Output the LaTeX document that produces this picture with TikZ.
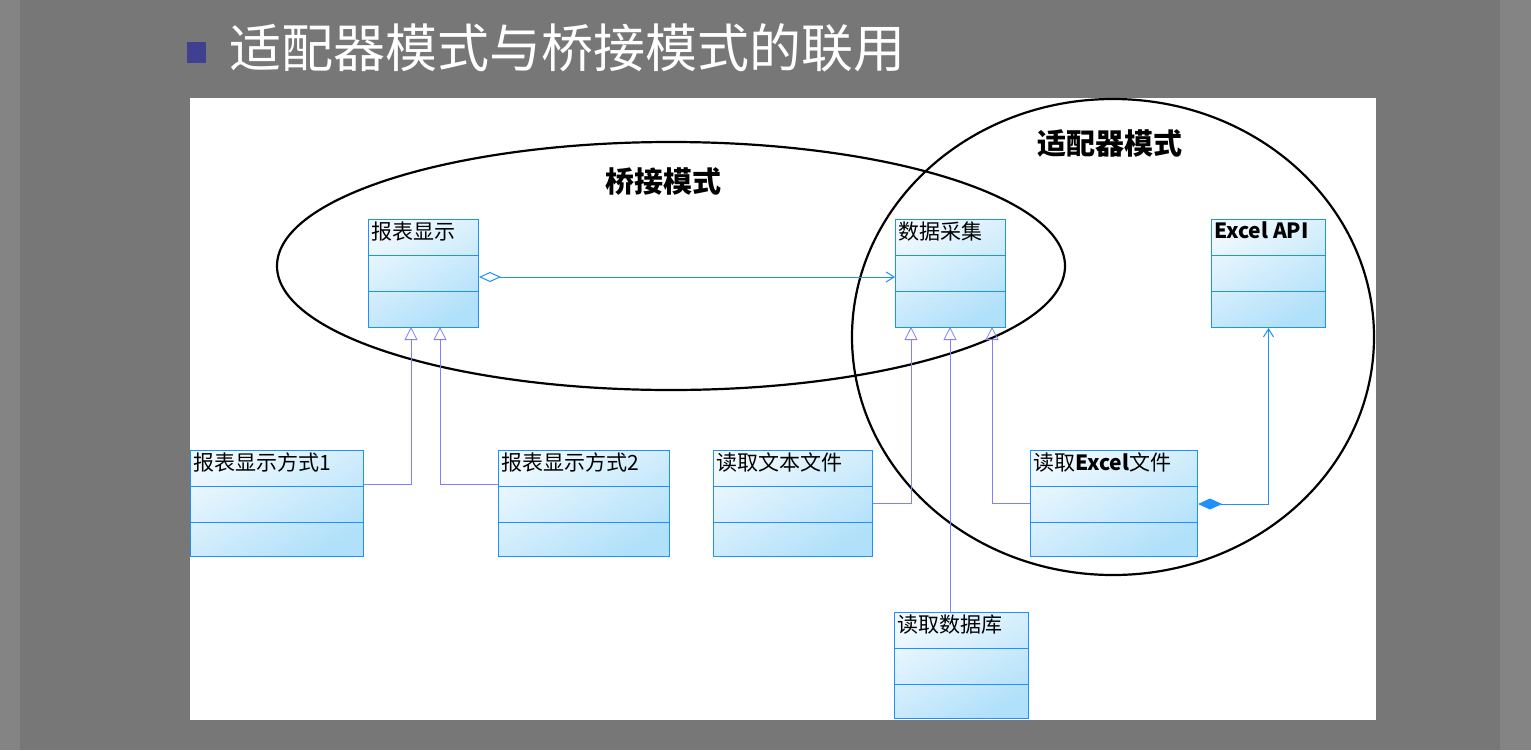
\documentclass[tikz,border=0pt]{standalone}
\usepackage{fontspec}
\setmainfont{Liberation Sans}
\newfontfamily\cjk{Noto Sans CJK SC}
\usetikzlibrary{arrows.meta}
\definecolor{umlblue}{HTML}{1E90FF}
\definecolor{umlpurple}{HTML}{8080FF}
\definecolor{boxtop}{HTML}{EEF8FE}
\definecolor{boxbot}{HTML}{B0E0FA}
\tikzset{
  umlbox/.style={draw=umlblue, line width=1pt, rectangle, inner sep=0pt,
    anchor=north west, top color=boxtop, bottom color=boxbot, shading angle=30},
  umlname/.style={anchor=north west, inner sep=3pt, font=\cjk\fontsize{21}{24}\selectfont},
  inherit/.style={draw=umlpurple, line width=0.8pt, -{Triangle[open, length=13pt, width=13pt]}},
  assoc/.style={draw=umlblue, line width=1pt},
  region/.style={draw=black, line width=2.2pt},
}
% \umlclass{name}{x}{y}{width}{height}{label}
\newcommand{\umlclass}[6]{%
  \node[umlbox, minimum width=#4pt, minimum height=#5pt] (#1) at (#2,#3) {};
  \draw[umlblue, line width=1pt] (#2,#3+36) -- (#2+#4,#3+36)
    (#2,#3+72) -- (#2+#4,#3+72);
  \node[umlname] (#1-t) at (#2,#3) {#6};
}
\begin{document}
\begin{tikzpicture}[x=1pt, y=-1pt]
  \fill[white!92!red!4!gray] (0,0) rectangle (1531,750);
  \fill[gray!105!black!0, fill={rgb,255:red,119;green,119;blue,119}] (20,0) rectangle (1500,750);
  \useasboundingbox (0,0) rectangle (1531,750);
  % title
  \fill[fill={rgb,255:red,64;green,64;blue,144}] (187,42) rectangle (206,63);
  \node[anchor=west, text=white, font=\cjk\fontsize{52}{60}\selectfont] (title) at (226,48) {适配器模式与桥接模式的联用};
  % panel
  \fill[white] (190,98) rectangle (1376,720);
  % classes
  \umlclass{report}{368}{219}{110}{108}{报表显示}
  \umlclass{collect}{895}{219}{110}{108}{数据采集}
  \umlclass{excelapi}{1211}{219}{114}{108}{\bfseries Excel API}
  \umlclass{reportA}{190}{450}{173}{106}{报表显示方式1}
  \umlclass{reportB}{498}{450}{171}{106}{报表显示方式2}
  \umlclass{readtxt}{713}{450}{159}{106}{读取文本文件}
  \umlclass{readxls}{1030}{450}{167}{106}{读取\textbf{Excel}文件}
  \umlclass{readdb}{894}{612}{134}{106}{读取数据库}
  % regions
  \draw[region] (671,266) ellipse [x radius=394, y radius=124];
  \draw[region] (1113,337) ellipse [x radius=261, y radius=238];
  \node[font=\cjk\bfseries\fontsize{29}{32}\selectfont] (bridge) at (663,181) {桥接模式};
  \node[font=\cjk\bfseries\fontsize{29}{32}\selectfont] (adapter) at (1110,143) {适配器模式};
  % connectors
  \draw[assoc, {Diamond[open, length=22pt, width=10pt]}-{Straight Barb[length=8pt, width=10pt]}]
    (report.east |- 0,277) -- (collect.west |- 0,277);
  \draw[inherit] (reportA.east |- 0,484) -| (411,327);
  \draw[inherit] (reportB.west |- 0,484) -| (440,327);
  \draw[inherit] (readtxt.east |- 0,503) -| (911,327);
  \draw[inherit] (readdb.north -| 950,0) -- (950,327);
  \draw[inherit] (readxls.west |- 0,503) -| (992,327);
  \draw[assoc, {Diamond[length=24pt, width=11pt]}-{Straight Barb[length=8pt, width=10pt]}]
    (readxls.east |- 0,504) -| (excelapi.south);
\end{tikzpicture}
\end{document}
